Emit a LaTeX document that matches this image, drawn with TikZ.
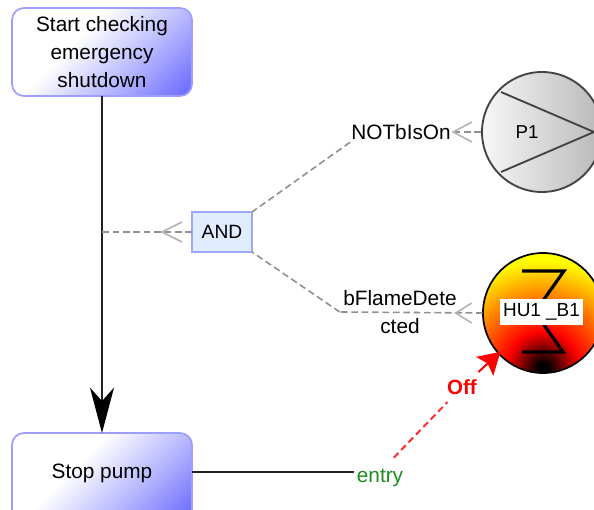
\documentclass[tikz,border=0pt]{standalone}
\usepackage{fontspec}
\setmainfont{Liberation Sans}
\usetikzlibrary{arrows.meta,calc}
\definecolor{boxblue}{HTML}{7272FF}
\definecolor{boxedge}{HTML}{9E9EFF}
\definecolor{andfill}{HTML}{E0ECFF}
\definecolor{andedge}{HTML}{9CA8FF}
\definecolor{dashgrey}{HTML}{909090}
\definecolor{chevgrey}{HTML}{B4B4B4}
\definecolor{darkline}{HTML}{222222}
\definecolor{entrygreen}{HTML}{1E8C1E}
\definecolor{reddash}{HTML}{FF3030}
\pgfdeclareradialshading{heatshade}{\pgfpoint{0bp}{0bp}}{color(0bp)=(black);color(1bp)=(black);color(7.5bp)=(red);color(22.5bp)=(yellow);color(50bp)=(yellow)}
\pgfdeclareverticalshading{boxshade}{100bp}{color(0bp)=(boxblue);color(18bp)=(boxblue);color(36bp)=(boxblue!55!white);color(60bp)=(white);color(100bp)=(white)}
\tikzset{
  x=0.75pt,y=-0.75pt,
  statebox/.style={rectangle,rounded corners=9pt,draw=boxedge,line width=1.3pt,outer sep=0pt,
    shading=boxshade,shading angle=45,
    minimum width=135pt,align=center,inner sep=0pt,font=\fontsize{15.6}{21}\selectfont},
  andbox/.style={rectangle,draw=andedge,fill=andfill,line width=1.1pt,minimum width=45pt,minimum height=30pt,
    inner sep=0pt,outer sep=0pt,font=\fontsize{14.4}{16}\selectfont},
  lbl/.style={inner sep=0pt,align=center,font=\fontsize{15.6}{21}\selectfont},
  dashconn/.style={draw=dashgrey,line width=1.2pt,dash pattern=on 5pt off 2.8pt},
  chevron/.style={draw=chevgrey,line width=1.2pt},
  mainconn/.style={draw=darkline,line width=1.5pt},
  bigarrow/.style={-{Stealth[length=34pt,width=18pt,inset=10pt,fill=black,color=black]}},
  redconn/.style={draw=reddash,line width=1.5pt,dash pattern=on 5pt off 3pt},
  redarrow/.style={draw=red,line width=1.5pt,shorten >=-2pt,-{Stealth[length=16pt,width=19pt,inset=3pt,color=red]}},
  pump/.style={circle,draw=darkline!85,line width=1.4pt,minimum size=90pt,inner sep=0pt},
  heater/.style={circle,minimum size=90pt,inner sep=0pt},
}
\begin{document}
\begin{tikzpicture}
\useasboundingbox (0,0) rectangle (594,510);
\clip (0,0) rectangle (594,510);
\fill[white] (0,0) rectangle (594,510);

% nodes
\node[statebox,shade,minimum height=66pt] (start) at (102,52) {Start checking\\emergency\\shutdown};
\node[statebox,shade,minimum height=66pt] (stop) at (102,477) {\raisebox{-1.5pt}[0pt][0pt]{Stop pump}};
\node[andbox] (and) at (222,232) {AND};
\coordinate (junction) at (102,232);

\node[pump,left color=gray!6,right color=gray!55] (p1) at (542,132) {};
\node[heater] (hu) at (543,313) {};
\begin{scope}
  \clip (543,313) circle (60);
  \shade[shading=heatshade] (543,368) circle (120);
\end{scope}
\draw[black,line width=1.3pt] (543,313) circle (60);

% labels on connectors
\node[lbl,minimum width=76pt,minimum height=15pt] (not) at (401,132) {NOTbIsOn};
\node[lbl,minimum width=90pt] (flame) at (400,312) {bFlameDete\\cted};
\node[lbl,text=entrygreen,minimum width=38pt,minimum height=21pt] (entry) at (380,472) {\raisebox{-7.5pt}[0pt][0pt]{entry}};
\node[lbl,text=red,font=\fontsize{15.4}{16}\selectfont\bfseries,minimum width=32pt,minimum height=22pt] (off) at (462,387) {Off};

\draw[mainconn,bigarrow] (start.south) -- (stop.north);
\draw[dashconn] (and.west) -- (junction);
\draw[chevron] ($(and.west)+(-10,-10)$) -- ($(and.west)+(-30,0)$) -- ($(and.west)+(-10,10)$);
\draw[dashconn] (p1.west) -- (not.east);
\draw[chevron] ($(p1.west)+(-9,-10)$) -- ($(p1.west)+(-28,0)$) -- ($(p1.west)+(-9,10)$);
\draw[dashconn] (not.south west) -- (and.north east);
\draw[dashconn] (hu.west) -- (flame.west);
\draw[chevron] ($(hu.west)+(-11,-10)$) -- ($(hu.west)+(-27,0)$) -- ($(hu.west)+(-11,10)$);
\draw[dashconn] (flame.west) -- (and.south east);
\draw[mainconn] (stop.east |- entry.west) -- (entry.west);
\draw[redconn] (entry) -- (off);
\draw[redarrow] (off) -- (hu);

% symbols
\draw[darkline!85,line width=1.4pt] (501,92) -- (594,132) -- (501,172);
\node[lbl,font=\fontsize{14}{16}\selectfont] at (527,132) {P1};
\draw[black,line width=2.4pt] (522,271) -- (564,271) -- (535,312) -- (563,352) -- (522,352);
\node[fill=white,inner sep=0pt,minimum width=62pt,minimum height=20pt,font=\fontsize{14.2}{16}\selectfont] (hulabel) at (541.5,312) {HU1 \_B1};
\end{tikzpicture}
\end{document}
